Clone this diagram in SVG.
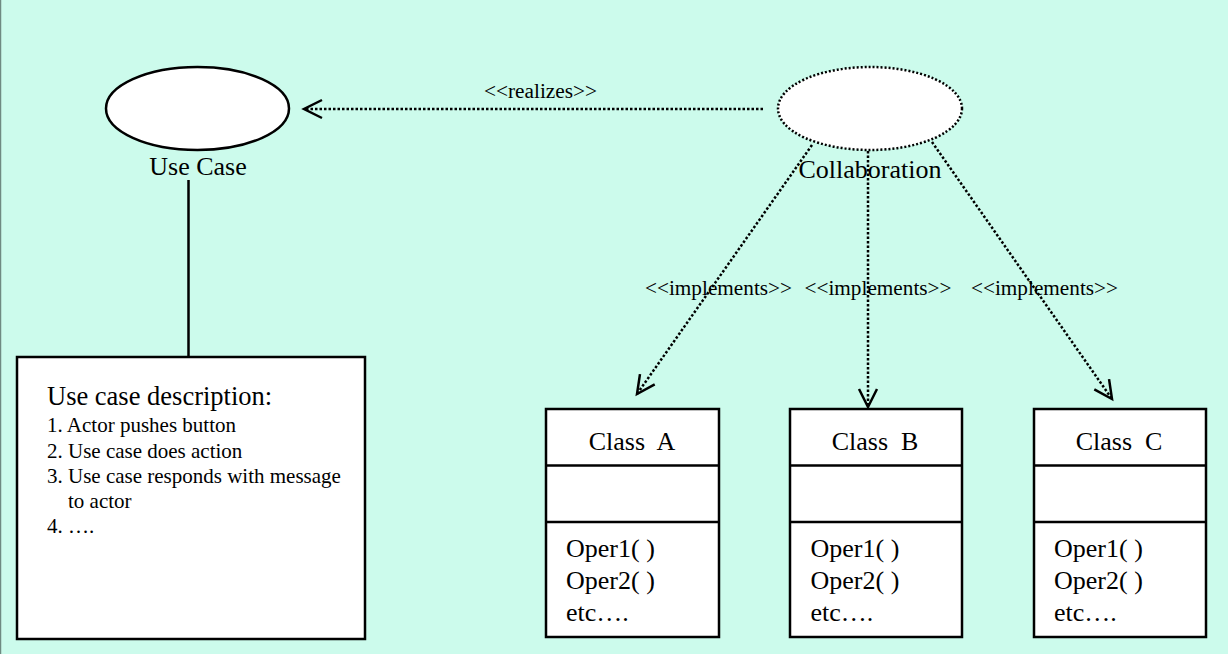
<svg xmlns="http://www.w3.org/2000/svg" width="1228" height="654" viewBox="0 0 1228 654">
<defs>
<style>
.bg{fill:#ccfbec}
.t{font-family:"Liberation Serif","Times New Roman",serif;fill:#000;white-space:pre}
.big{font-size:26px}
.mid{font-size:21px}
.lbl{font-size:20px}
.box{fill:#fff;stroke:#000;stroke-width:2.5}
.dot{fill:none;stroke:#000;stroke-width:2.5;stroke-dasharray:2.5 2}
.solid{fill:none;stroke:#000;stroke-width:2.5}
</style>
<marker id="open" markerUnits="userSpaceOnUse" viewBox="-22 -12 26 24" refX="0" refY="0" markerWidth="26" markerHeight="24" orient="auto">
<path d="M-18,-9 L0,0 L-18,9" fill="none" stroke="#000" stroke-width="2.5" stroke-dasharray="none"/>
</marker>
</defs>
<rect class="bg" x="0" y="0" width="1228" height="654"/>
<line x1="0.5" y1="0" x2="0.5" y2="654" stroke="#6f8a82" stroke-width="1.5"/>

<g id="usecase">
<ellipse class="box" cx="197.5" cy="108.5" rx="91.5" ry="41.5"/>
<text class="t big" x="198" y="175" text-anchor="middle">Use Case</text>
</g>

<g id="collaboration">
<ellipse cx="870" cy="108.5" rx="92" ry="41.5" fill="#fff" stroke="#000" stroke-width="2.5" stroke-dasharray="2 2"/>
<text class="t big" x="870" y="178" text-anchor="middle">Collaboration</text>
</g>

<g id="description">
<rect class="box" x="17" y="357" width="348" height="282"/>
<text class="t big" x="47" y="405" style="font-size:26.5px">Use case description:</text>
<text class="t mid" x="47" y="432">1. Actor pushes button</text>
<text class="t mid" x="47" y="458">2. Use case does action</text>
<text class="t mid" x="47" y="483">3. Use case responds with message</text>
<text class="t mid" x="68" y="508">to actor</text>
<text class="t mid" x="47" y="533">4. ….</text>
</g>

<g id="classA">
<rect class="box" x="546" y="409" width="173" height="228"/>
<line class="solid" x1="546" y1="465.5" x2="719" y2="465.5"/>
<line class="solid" x1="546" y1="522" x2="719" y2="522"/>
<text class="t big" x="632" y="450" text-anchor="middle">Class  A</text>
<text class="t big" x="566" y="557">Oper1( )</text>
<text class="t big" x="566" y="589">Oper2( )</text>
<text class="t big" x="566" y="621">etc….</text>
</g>

<g id="classB">
<rect class="box" x="790" y="409" width="172" height="228"/>
<line class="solid" x1="790" y1="465.5" x2="962" y2="465.5"/>
<line class="solid" x1="790" y1="522" x2="962" y2="522"/>
<text class="t big" x="875" y="450" text-anchor="middle">Class  B</text>
<text class="t big" x="810.5" y="557">Oper1( )</text>
<text class="t big" x="810.5" y="589">Oper2( )</text>
<text class="t big" x="810.5" y="621">etc….</text>
</g>

<g id="classC">
<rect class="box" x="1034" y="409" width="172" height="228"/>
<line class="solid" x1="1034" y1="465.5" x2="1206" y2="465.5"/>
<line class="solid" x1="1034" y1="522" x2="1206" y2="522"/>
<text class="t big" x="1119" y="450" text-anchor="middle">Class  C</text>
<text class="t big" x="1054" y="557">Oper1( )</text>
<text class="t big" x="1054" y="589">Oper2( )</text>
<text class="t big" x="1054" y="621">etc….</text>
</g>

<g id="connectors">
<text class="t lbl" x="540.5" y="98" text-anchor="middle" textLength="113" lengthAdjust="spacingAndGlyphs">&lt;&lt;realizes&gt;&gt;</text>
<text class="t lbl" x="718.5" y="295" text-anchor="middle" textLength="147" lengthAdjust="spacingAndGlyphs">&lt;&lt;implements&gt;&gt;</text>
<text class="t lbl" x="878" y="295" text-anchor="middle" textLength="147" lengthAdjust="spacingAndGlyphs">&lt;&lt;implements&gt;&gt;</text>
<text class="t lbl" x="1044.5" y="295" text-anchor="middle" textLength="147" lengthAdjust="spacingAndGlyphs">&lt;&lt;implements&gt;&gt;</text>
<line class="solid" x1="188.5" y1="180" x2="188.5" y2="357"/>
<line class="dot" x1="763" y1="109" x2="304" y2="109" marker-end="url(#open)"/>
<line class="dot" x1="812" y1="145" x2="637" y2="394" marker-end="url(#open)"/>
<line class="dot" x1="868" y1="151" x2="868" y2="407" marker-end="url(#open)"/>
<line class="dot" x1="932" y1="142" x2="1112" y2="399" marker-end="url(#open)"/>
</g>
</svg>
